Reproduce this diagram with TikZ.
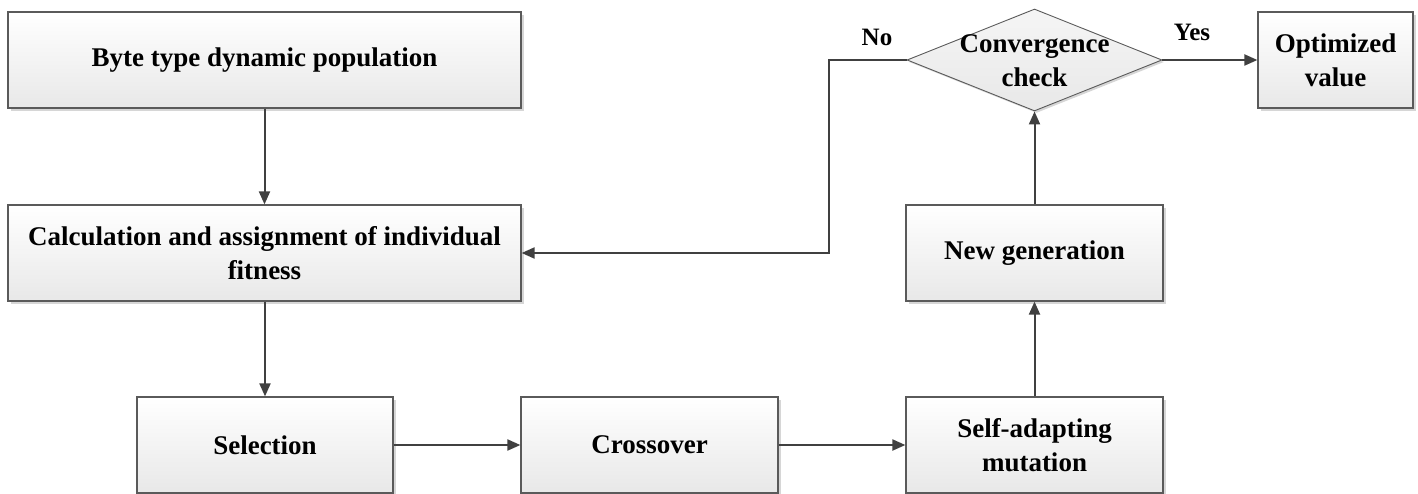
\documentclass[tikz,border=0pt]{standalone}
\usepackage{fontspec}
\setmainfont{Liberation Serif}
\usetikzlibrary{arrows.meta,shapes.geometric,shadows}
\definecolor{edgec}{HTML}{404040}
\definecolor{borderc}{HTML}{5A5A5A}
\definecolor{shadowc}{HTML}{D6D6D6}
\tikzset{
  box/.style={rectangle, draw=borderc, line width=1.2pt, top color=white, bottom color=black!9,
    drop shadow={shadow xshift=3pt, shadow yshift=-3pt, fill=shadowc, opacity=1},
    align=center, font=\fontsize{27}{34}\selectfont\bfseries, inner sep=0pt},
  dec/.style={diamond, draw=borderc, line width=0.9pt, top color=black!4, bottom color=black!9,
    drop shadow={shadow xshift=2pt, shadow yshift=-2pt, fill=shadowc, opacity=1},
    align=center, font=\fontsize{27}{34}\selectfont\bfseries, inner sep=0pt, aspect=2.5},
  conn/.style={draw=edgec, line width=2pt, -{Triangle[length=13pt,width=11pt]}},
  lbl/.style={font=\fontsize{25}{30}\selectfont\bfseries, inner sep=0pt}
}
\begin{document}
\begin{tikzpicture}[x=1pt,y=-1pt]
\useasboundingbox (0,0) rectangle (1418,494);
\node[box, minimum width=513pt, minimum height=96pt] (pop) at (264.5,60) {Byte type dynamic population};
\node[box, minimum width=513pt, minimum height=96pt] (calc) at (264.5,253) {Calculation and assignment of individual\\fitness};
\node[box, minimum width=256pt, minimum height=96pt] (sel) at (265,445) {Selection};
\node[box, minimum width=257pt, minimum height=96pt] (cross) at (649.5,445) {Crossover};
\node[box, minimum width=257pt, minimum height=96pt] (mut) at (1034.5,445) {Self-adapting\\mutation};
\node[box, minimum width=257pt, minimum height=96pt] (newgen) at (1034.5,253) {New generation};
\node[dec, minimum width=255pt, minimum height=102pt] (conv) at (1034.5,60) {};
\node[align=center, font=\fontsize{27}{34}\selectfont\bfseries, inner sep=0pt] (convt) at (1034.5,61) {Convergence\\check};
\node[box, minimum width=155pt, minimum height=96pt] (opt) at (1335.5,60) {Optimized\\value};
\coordinate (c1) at (829,60);
\coordinate (c2) at (829,253);
\draw[conn] (pop.south) -- (calc.north);
\draw[conn] (calc.south -| sel.north) -- (sel.north);
\draw[conn] (sel.east) -- (cross.west);
\draw[conn] (cross.east) -- (mut.west);
\draw[conn] (mut.north) -- (newgen.south);
\draw[conn] (newgen.north) -- (conv.south);
\draw[conn] (conv.east) -- (opt.west);
\draw[conn] (conv.west) -- (c1) -- (c2) -- (calc.east);
\node[lbl] (no) at (877,37) {No};
\node[lbl] (yes) at (1192,32) {Yes};
\end{tikzpicture}
\end{document}
